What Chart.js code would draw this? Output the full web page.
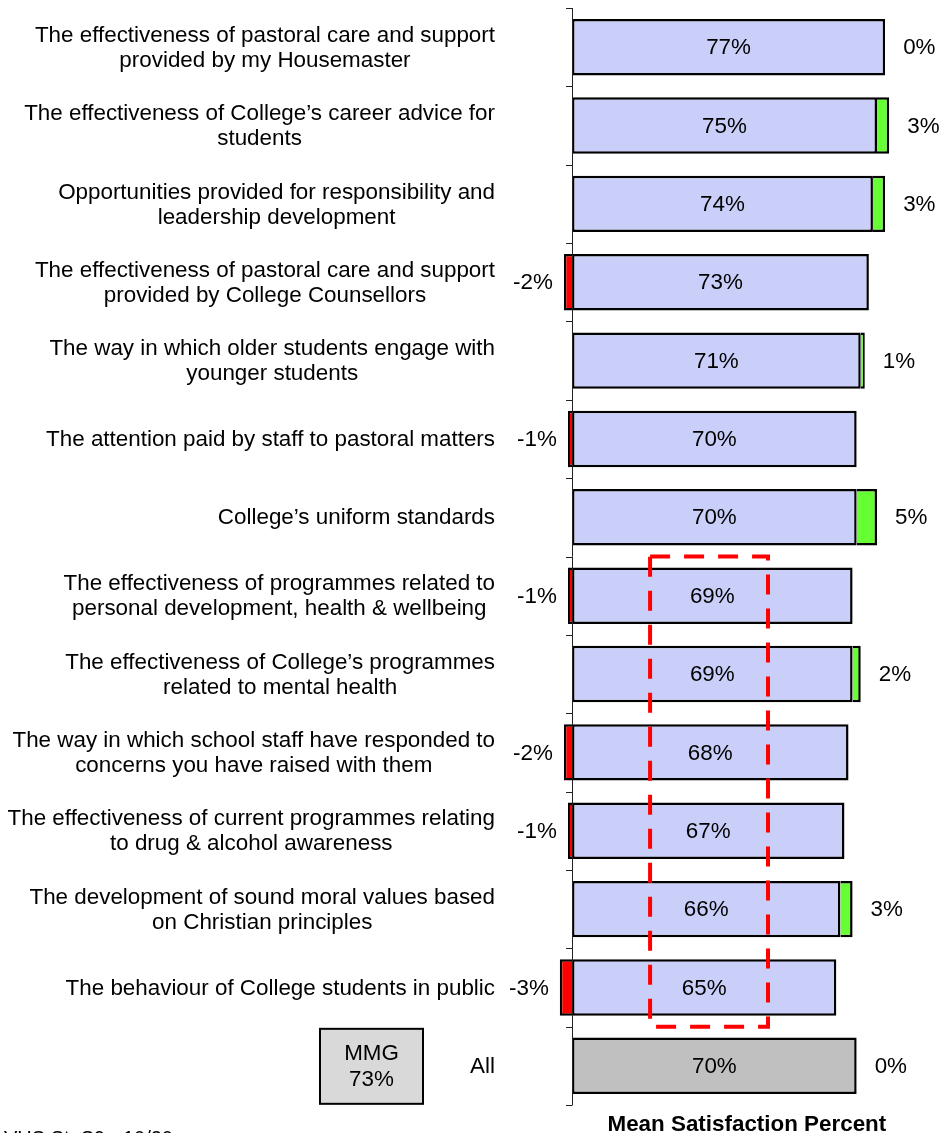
<!DOCTYPE html>
<html>
<head>
<meta charset="utf-8">
<script src="https://cdn.jsdelivr.net/npm/chart.js@4"></script>
<style>
  html, body { margin: 0; padding: 0; background: #fff; }
</style>
</head>
<body>
<canvas id="chart" width="942" height="1133"></canvas>
<script>
// Survey items, top to bottom. The last row is the overall figure.
const categories = [
    ["The effectiveness of pastoral care and support", "provided by my Housemaster"],
    ["The effectiveness of College\u2019s career advice for", "students"],
    ["Opportunities provided for responsibility and", "leadership development"],
    ["The effectiveness of pastoral care and support", "provided by College Counsellors"],
    ["The way in which older students engage with", "younger students"],
    ["The attention paid by staff to pastoral matters"],
    ["College\u2019s uniform standards"],
    ["The effectiveness of programmes related to", "personal development, health & wellbeing"],
    ["The effectiveness of College\u2019s programmes", "related to mental health"],
    ["The way in which school staff have responded to", "concerns you have raised with them"],
    ["The effectiveness of current programmes relating", "to drug & alcohol awareness"],
    ["The development of sound moral values based", "on Christian principles"],
    ["The behaviour of College students in public"],
    ["All"]
];

// Mean satisfaction percent and change since last survey
const satisfaction = [77, 75, 74, 73, 71, 70, 70, 69, 69, 68, 67, 66, 65, 70];
const change = [0, 3, 3, -2, 1, -1, 5, -1, 2, -2, -1, 3, -3, 0];

// Comparison box next to the "All" row
const mmgLabel = "MMG";
const mmgValue = 73;

// Dashed highlight box (value range and rows it covers)
const highlightRange = [19.2, 48.2];
const highlightRows = [7, 12];

const axisTitle = "Mean Satisfaction Percent";
const footerText = "VHS St. S9 - 10/20";

const FONT = '"Liberation Sans", Arial, sans-serif';
const labelRight = 495;

const gains = change.map(v => v > 0 ? v : null);
const drops = change.map(v => v < 0 ? v : null);
const lastRow = categories.length - 1;

const overlay = {
    id: "overlay",
    afterDatasetsDraw(chart) {
        const ctx = chart.ctx;
        const x = chart.scales.x;
        const y = chart.scales.y;
        const area = chart.chartArea;
        const bars = chart.getDatasetMeta(0).data;
        const x0 = x.getPixelForValue(0);
        const rowEdge = i => (y.getPixelForValue(i) + y.getPixelForValue(i + 1)) / 2;

        ctx.save();

        // axis line and tick marks between rows
        ctx.strokeStyle = "#222";
        ctx.lineWidth = 1;
        ctx.beginPath();
        ctx.moveTo(x0 + 0.5, area.top);
        ctx.lineTo(x0 + 0.5, area.bottom);
        const ticks = [area.top, area.bottom];
        for (let i = 0; i < lastRow; i++) ticks.push(rowEdge(i));
        for (const t of ticks) {
            ctx.moveTo(x0 - 6, Math.round(t) + 0.5);
            ctx.lineTo(x0 + 0.5, Math.round(t) + 0.5);
        }
        ctx.stroke();

        // dashed highlight box
        ctx.strokeStyle = "#ff0000";
        ctx.lineWidth = 4;
        ctx.setLineDash([20, 14]);
        const hx1 = x.getPixelForValue(highlightRange[0]);
        const hx2 = x.getPixelForValue(highlightRange[1]);
        const hy1 = rowEdge(highlightRows[0] - 1);
        const hy2 = rowEdge(highlightRows[1]);
        ctx.strokeRect(hx1, hy1, hx2 - hx1, hy2 - hy1);
        ctx.setLineDash([]);

        ctx.fillStyle = "#000";
        ctx.font = `22.4px ${FONT}`;
        ctx.textBaseline = "middle";

        categories.forEach((lines, i) => {
            const cy = bars[i].y + 1;

            // category label: block right aligned, lines centred in the block
            const w = Math.max(...lines.map(l => ctx.measureText(l).width));
            ctx.textAlign = "center";
            lines.forEach((line, k) => {
                ctx.fillText(line, labelRight - w / 2, cy + (k - (lines.length - 1) / 2) * 25);
            });

            // value inside the bar
            ctx.fillText(satisfaction[i] + "%", x.getPixelForValue(satisfaction[i] / 2), cy);

            // change label
            const d = change[i];
            if (d < 0) {
                ctx.textAlign = "right";
                ctx.fillText(d + "%", x.getPixelForValue(d) - 11, cy);
            } else {
                ctx.textAlign = "left";
                ctx.fillText(d + "%", x.getPixelForValue(satisfaction[i] + d) + 18, cy);
            }
        });

        // MMG comparison box beside the "All" row
        const by = bars[lastRow].y;
        const bx = labelRight - 175;
        ctx.fillStyle = "#d9d9d9";
        ctx.fillRect(bx, by - 37, 103, 75);
        ctx.strokeStyle = "#000";
        ctx.lineWidth = 2;
        ctx.strokeRect(bx, by - 37, 103, 75);
        ctx.fillStyle = "#000";
        ctx.textAlign = "center";
        ctx.fillText(mmgLabel, bx + 51.5, by - 12);
        ctx.fillText(mmgValue + "%", bx + 51.5, by + 14);

        // axis title
        ctx.font = `bold 22.4px ${FONT}`;
        ctx.textBaseline = "alphabetic";
        ctx.fillText(axisTitle, x.getPixelForValue(43), 1131);

        // footer, cut by the bottom edge
        ctx.font = `20px ${FONT}`;
        ctx.textAlign = "left";
        ctx.textBaseline = "top";
        ctx.fillText(footerText, 4, 1129);

        ctx.restore();
    }
};

new Chart(document.getElementById("chart"), {
    type: "bar",
    data: {
        labels: categories,
        datasets: [
            {
                data: satisfaction,
                backgroundColor: satisfaction.map((v, i) => i === lastRow ? "#c0c0c0" : "#c9cff9"),
                borderColor: "#000",
                borderWidth: 2.5,
                borderSkipped: false
            },
            {
                data: gains,
                backgroundColor: "#66ff33",
                borderColor: "#000",
                borderWidth: {top: 2.5, bottom: 2.5, right: 2.5, left: 0},
                borderSkipped: false
            },
            {
                data: drops,
                backgroundColor: "#ff0000",
                borderColor: "#000",
                borderWidth: {top: 2.5, bottom: 2.5, left: 2.5, right: 0},
                borderSkipped: false
            }
        ]
    },
    options: {
        indexAxis: "y",
        responsive: false,
        animation: false,
        devicePixelRatio: 1,
        layout: { padding: { left: 511, right: 4, top: 8, bottom: 28 } },
        datasets: { bar: { categoryPercentage: 1, barPercentage: 0.72 } },
        plugins: { legend: { display: false }, tooltip: { enabled: false } },
        scales: {
            x: { display: false, stacked: true, min: -15, max: 90 },
            y: { display: false, stacked: true }
        }
    },
    plugins: [overlay]
});
</script>
</body>
</html>
